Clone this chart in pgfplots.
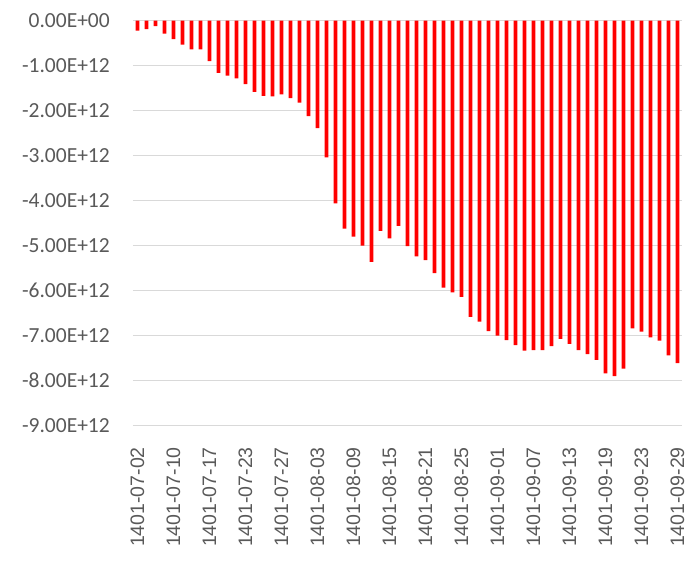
\documentclass[border=0pt]{standalone}
\usepackage{fontspec}
\setmainfont{Carlito}
\newfontfamily\xfont{Liberation Sans}
\usepackage{pgfplots}
\pgfplotsset{compat=1.18}
\usepackage{pgfplotstable}
\definecolor{barred}{RGB}{255,0,0}
\definecolor{ticktxt}{RGB}{89,89,89}
\definecolor{gridgray}{RGB}{217,217,217}

% daily values, in units of 1e12
\pgfplotstableread{
idx val
0 -0.22
1 -0.19
2 -0.12
3 -0.29
4 -0.41
5 -0.53
6 -0.64
7 -0.64
8 -0.90
9 -1.16
10 -1.22
11 -1.28
12 -1.41
13 -1.58
14 -1.67
15 -1.68
16 -1.64
17 -1.72
18 -1.82
19 -2.12
20 -2.39
21 -3.04
22 -4.06
23 -4.62
24 -4.80
25 -5.00
26 -5.36
27 -4.67
28 -4.84
29 -4.56
30 -5.01
31 -5.24
32 -5.32
33 -5.61
34 -5.93
35 -6.04
36 -6.14
37 -6.58
38 -6.69
39 -6.90
40 -7.00
41 -7.10
42 -7.21
43 -7.33
44 -7.32
45 -7.32
46 -7.23
47 -7.07
48 -7.18
49 -7.32
50 -7.41
51 -7.54
52 -7.84
53 -7.90
54 -7.73
55 -6.84
56 -6.91
57 -7.04
58 -7.11
59 -7.44
60 -7.61
}\datatable

\begin{document}
\begin{tikzpicture}
\useasboundingbox (-133pt,-135.3pt) rectangle (564pt,425.7pt);
\begin{axis}[
  at={(0pt,0pt)}, anchor=south west,
  scale only axis,
  width=549pt, height=405pt,
  ybar, bar width=3.6pt,
  xmin=-0.5, xmax=60.5,
  ymin=-9, ymax=0,
  xtick={0,4,...,60},
  xticklabels={1401-07-02,1401-07-10,1401-07-17,1401-07-23,1401-07-27,1401-08-03,1401-08-09,1401-08-15,1401-08-21,1401-08-25,1401-09-01,1401-09-07,1401-09-13,1401-09-19,1401-09-23,1401-09-29},
  ytick={-9,-8,-7,-6,-5,-4,-3,-2,-1,0},
  yticklabels={-9.00E+12,-8.00E+12,-7.00E+12,-6.00E+12,-5.00E+12,-4.00E+12,-3.00E+12,-2.00E+12,-1.00E+12,0.00E+00},
  x tick label style={rotate=90, anchor=east, inner sep=0pt,
    font=\xfont\fontsize{19.5}{22}\selectfont, text=ticktxt},
  y tick label style={anchor=east, inner sep=0pt,
    font=\fontsize{21.5}{24}\selectfont, text=ticktxt},
  xticklabel shift=17pt,
  yticklabel shift=23pt,
  ymajorgrids,
  major grid style={draw=gridgray, line width=1.3pt},
  axis line style={draw=none},
  major tick style={draw=none},
  minor tick style={draw=none},
]
  \addplot[fill=barred, draw=none, bar shift=0pt] table[x=idx, y=val] {\datatable};
\end{axis}
\end{tikzpicture}
\end{document}
